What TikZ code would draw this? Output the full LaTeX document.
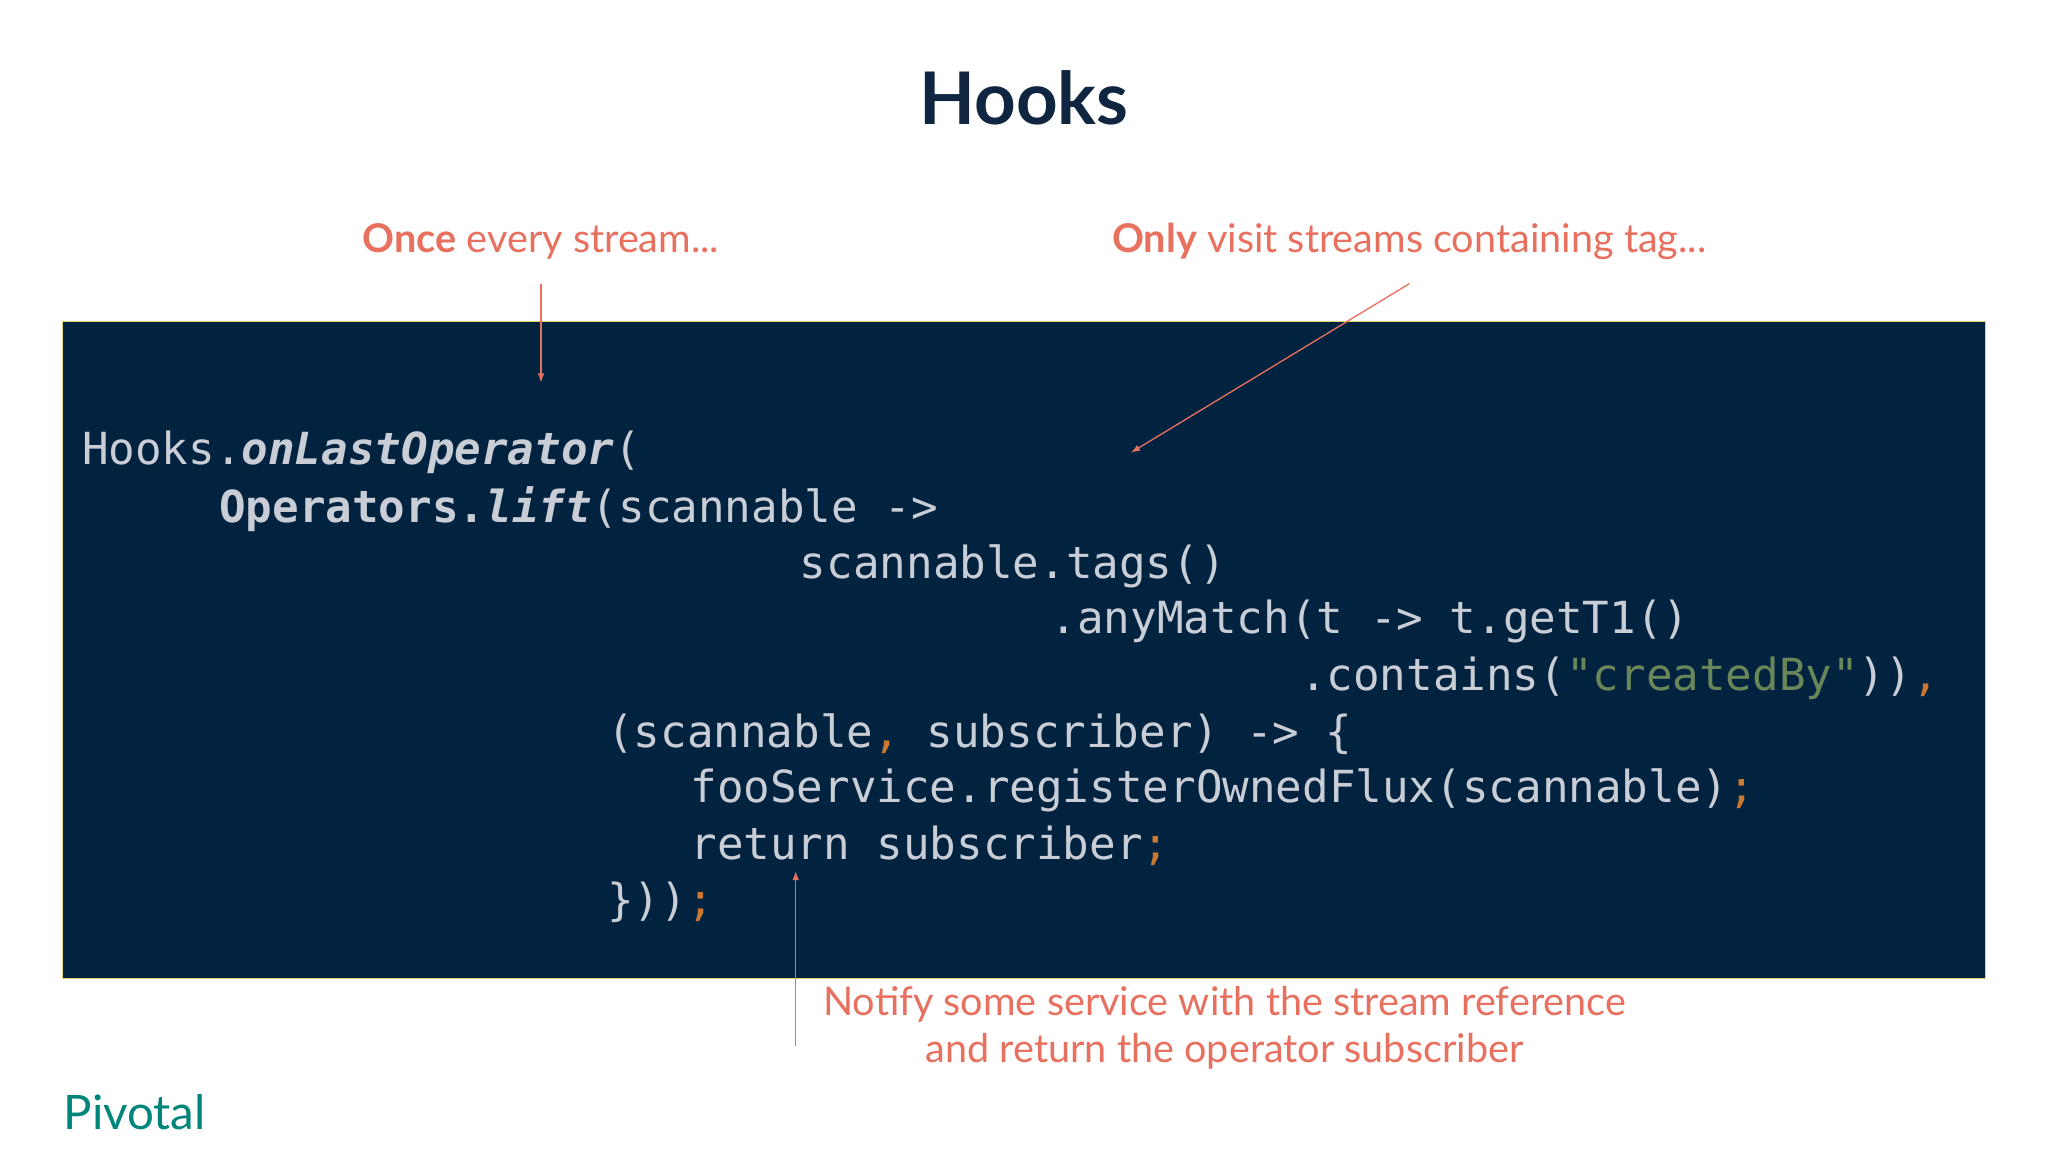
\documentclass[tikz,border=0pt]{standalone}
\usepackage{fontspec}
\usetikzlibrary{arrows.meta}
\setmainfont{Lato}
\setmonofont{DejaVu Sans Mono}
\definecolor{navy}{HTML}{0F2540}
\definecolor{codebg}{HTML}{022340}
\definecolor{codefg}{HTML}{C9CDD6}
\definecolor{salmon}{HTML}{E8705F}
\definecolor{strg}{HTML}{6A8759}
\definecolor{punc}{HTML}{CC7832}
\definecolor{teal}{HTML}{00857A}
\definecolor{boxedge}{HTML}{E6D36A}
\begin{document}
\begin{tikzpicture}[x=1pt,y=-1pt,
  code/.style={anchor=west,inner sep=0pt,text=codefg,font=\ttfamily\fontsize{33.5}{36}\selectfont},
  note/.style={text=salmon,font=\fontsize{30}{36}\selectfont,align=center,inner sep=0pt},
  arr/.style={draw=salmon,line width=1pt,-{Latex[length=7pt,width=5pt]}}]
\useasboundingbox (0,0) rectangle (1552,873);
\fill[white] (0,0) rectangle (1552,873);
\node[text=navy,font=\bfseries\fontsize{55}{60}\selectfont] (title) at (776,74) {Hooks};
\node[draw=boxedge,line width=1pt,fill=codebg,minimum width=1457pt,minimum height=498pt,anchor=north west,inner sep=0pt] (box) at (47,243) {};
\node[code] (l1) at (62,343) {Hooks.\textbf{\textit{onLastOperator}}(};
\node[code] (l2) at (166,386) {\textbf{Operators.\textit{lift}}(scannable ->};
\node[code] (l3) at (606,429) {scannable.tags()};
\node[code] (l4) at (796,471) {.anyMatch(t -> t.getT1()};
\node[code] (l5) at (985,514) {.contains(\textcolor{strg}{"createdBy"}))\textcolor{punc}{,}};
\node[code] (l6) at (460,556) {(scannable\textcolor{punc}{,} subscriber) -> \{};
\node[code] (l7) at (523,599) {fooService.registerOwnedFlux(scannable)\textcolor{punc}{;}};
\node[code] (l8) at (523,641) {return subscriber\textcolor{punc}{;}};
\node[code] (l9) at (460,684) {\}))\textcolor{punc}{;}};
\node[note] (n1) at (410,183) {\textbf{Once} every stream...};
\node[note] (n2) at (1068,183) {\textbf{Only} visit streams containing tag...};
\node[note] (n3) at (928,779) {Notify some service with the stream reference\\and return the operator subscriber};
\coordinate (a1s) at (410,215); \coordinate (a1e) at (410,290);
\coordinate (a2s) at (1068,215); \coordinate (a2e) at (857,343);
\coordinate (a3s) at (603,793); \coordinate (a3e) at (603,660);
\draw[arr] (a1s) -- (a1e);
\draw[arr] (a2s) -- (a2e);
\draw[arr] (a3s) -- (a3e);
\node[text=teal,font=\fontsize{36}{40}\selectfont,anchor=west,inner sep=0pt] (logo) at (48,843) {Pivotal};
\end{tikzpicture}
\end{document}
